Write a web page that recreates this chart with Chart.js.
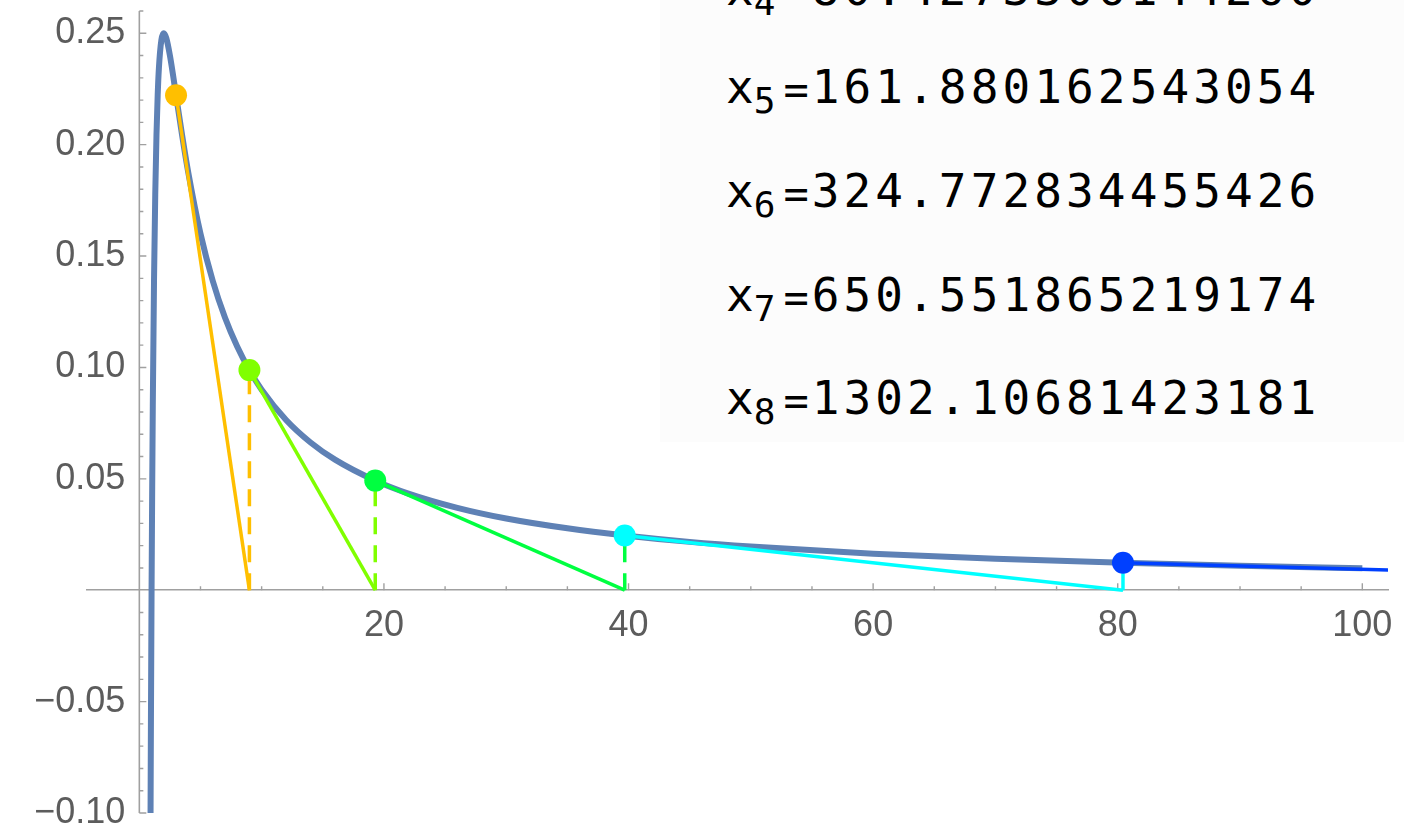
<!DOCTYPE html>
<html>
<head>
<meta charset="utf-8">
<title>Newton iterations</title>
<script src="https://cdn.jsdelivr.net/npm/chart.js@4.4.0/dist/chart.umd.min.js"></script>
<style>
  body { margin: 0; background: #fff; }
  #wrap { position: relative; width: 1414px; height: 831px; }
  #iter { position: absolute; left: 660px; top: 0; width: 744px; height: 442px; background: #fcfcfc;
          font-family: 'DejaVu Sans Mono', monospace; color: #000; overflow: hidden; }
  .row { position: absolute; left: 66px; font-size: 46px; line-height: 46px; white-space: nowrap; }
  .sub { font-size: 36px; position: relative; top: 10px; }
  .eq { font-size: 42px; margin-left: 8px; margin-right: 3px; position: relative; top: 1px; }
  .num { letter-spacing: 4.1px; }
</style>
</head>
<body>
<div id="wrap">
  <canvas id="chart" width="1414" height="831"></canvas>
  <div id="iter"></div>
</div>
<script>
// curve samples
const curveX = [0.916, 0.95, 1, 1.05, 1.1, 1.2, 1.3, 1.4, 1.5, 1.6, 1.8, 2, 2.2, 2.5, 2.8, 3, 3.5, 4, 5, 6, 7, 8, 9, 10,
  12, 14, 16, 19.29, 22, 26, 30, 35, 39.69, 45, 50, 60, 70, 80.43, 90, 100];
const curveY = [-0.1, -0.0554, 0, 0.0454, 0.0826, 0.1389, 0.1775, 0.2041, 0.2222, 0.2344, 0.2469, 0.25, 0.2479, 0.24,
  0.2296, 0.2222, 0.2041, 0.1875, 0.16, 0.1389, 0.1224, 0.1094, 0.0988, 0.09, 0.0764, 0.0663, 0.0586, 0.0492, 0.0434,
  0.037, 0.0322, 0.0278, 0.0246, 0.0217, 0.0196, 0.0164, 0.0141, 0.0123, 0.011, 0.0099];

// newton iterates (points on the curve) and where each tangent hits the axis
const iterX = [3, 9, 19.29, 39.69, 80.43, 161.88];
const iterY = [0.2222, 0.0988, 0.0492, 0.0246, 0.0123, 0];
const iterColors = ['#ffbf00', '#80ff00', '#00ff40', '#00ffff', '#0040ff'];

const xTickValues = [20, 40, 60, 80, 100];
const yTickValues = [-0.10, -0.05, 0.05, 0.10, 0.15, 0.20, 0.25];

const iterNames = ['4', '5', '6', '7', '8'];
const iterText = ['80.4273306144260', '161.880162543054', '324.772834455426', '650.551865219174', '1302.10681423181'];
const rowTops = [-34, 64, 168, 272, 375];

const box = document.getElementById('iter');
iterNames.forEach((n, i) => {
  const d = document.createElement('div');
  d.className = 'row';
  d.style.top = rowTops[i] + 'px';
  d.innerHTML = 'x<span class="sub">' + n + '</span><span class="eq">=</span><span class="num">' + iterText[i] + '</span>';
  box.appendChild(d);
});

const datasets = [];
// dots
for (let i = 0; i < 5; i++) {
  datasets.push({
    data: [{ x: iterX[i], y: iterY[i] }],
    showLine: false, pointRadius: 11, pointBackgroundColor: iterColors[i], pointBorderWidth: 0, order: 0
  });
}
// tangents
for (let i = 0; i < 5; i++) {
  datasets.push({
    data: [{ x: iterX[i], y: iterY[i] }, { x: iterX[i + 1], y: 0 }],
    showLine: true, borderColor: iterColors[i], borderWidth: 3.5, pointRadius: 0, clip: 0, order: 1
  });
}
// dashed drops
for (let i = 0; i < 4; i++) {
  datasets.push({
    data: [{ x: iterX[i + 1], y: 0 }, { x: iterX[i + 1], y: iterY[i + 1] }],
    showLine: true, borderColor: iterColors[i], borderWidth: 3.5, borderDash: [17, 11], pointRadius: 0, order: 1
  });
}
// the function
datasets.push({
  data: curveX.map((x, i) => ({ x: x, y: curveY[i] })),
  showLine: true, borderColor: '#5e81b5', borderWidth: 6, pointRadius: 0,
  cubicInterpolationMode: 'monotone', order: 2
});

// y axis line plus inward major/minor ticks, mathematica style
const tickMarks = {
  id: 'tickMarks',
  beforeDatasetsDraw(chart) {
    const { ctx, chartArea, scales: { x, y } } = chart;
    const x0 = x.getPixelForValue(0), y0 = y.getPixelForValue(0);
    ctx.save();
    ctx.strokeStyle = '#a0a0a0';
    ctx.lineWidth = 1.6;
    ctx.beginPath();
    ctx.moveTo(x0, chartArea.top); ctx.lineTo(x0, chartArea.bottom);
    ctx.stroke();
    ctx.lineWidth = 1.4;
    ctx.beginPath();
    for (let k = 1; k <= 20; k++) {
      const px = x.getPixelForValue(k * 5);
      const len = k % 4 === 0 ? 7 : 4;
      ctx.moveTo(px, y0); ctx.lineTo(px, y0 - len);
    }
    for (let k = -10; k <= 26; k++) {
      if (k === 0) continue;
      const py = y.getPixelForValue(k / 100);
      const len = k % 5 === 0 ? 7 : 4;
      ctx.moveTo(x0, py); ctx.lineTo(x0 + len, py);
    }
    ctx.stroke();
    ctx.restore();
  }
};

const tickFont = { family: "'Liberation Sans', Arial, sans-serif", size: 36 };

new Chart(document.getElementById('chart'), {
  type: 'scatter',
  data: { datasets: datasets },
  options: {
    responsive: false,
    animation: false,
    layout: { padding: { left: 87, right: 26, top: 8, bottom: 18 } },
    plugins: { legend: { display: false }, tooltip: { enabled: false } },
    scales: {
      x: {
        type: 'linear', min: -4.28, max: 102.1, position: { y: 0 },
        grid: { display: false, drawTicks: false },
        border: { display: true, color: '#a0a0a0', width: 1.6 },
        ticks: { font: tickFont, color: '#5c5c5c', padding: 14, autoSkip: false, maxRotation: 0 },
        afterBuildTicks: s => { s.ticks = xTickValues.map(v => ({ value: v })); },
        afterFit: s => { s.paddingLeft = 0; s.paddingRight = 0; }
      },
      y: {
        // labels sit a little left of the x = 0 axis line
        type: 'linear', min: -0.1, max: 0.26, position: { x: -1.15 },
        grid: { display: false, drawTicks: false },
        border: { display: false },
        ticks: {
          font: tickFont, color: '#5c5c5c', autoSkip: false,
          callback: v => (v < 0 ? '\u2212' : '') + Math.abs(v).toFixed(2)
        },
        afterBuildTicks: s => { s.ticks = yTickValues.map(v => ({ value: v })); },
        afterFit: s => { s.paddingTop = 0; s.paddingBottom = 0; }
      }
    }
  },
  plugins: [tickMarks]
});
</script>
</body>
</html>
